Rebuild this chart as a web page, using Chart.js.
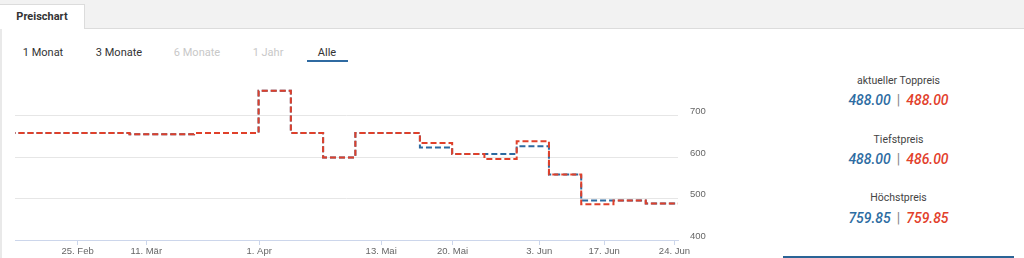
<!DOCTYPE html>
<html>
<head>
<meta charset="utf-8">
<script src="https://cdn.jsdelivr.net/npm/chart.js@4.4.0/dist/chart.umd.min.js"></script>
<style>
  html, body { margin: 0; padding: 0; background: #fff; }
  body { width: 1024px; height: 258px; position: relative; overflow: hidden; font-family: Roboto, "Liberation Sans", sans-serif; color: #333; }
  #tabbar { position: absolute; left: 0; top: 0; width: 1024px; height: 29px; background: #f2f2f2; border-bottom: 1px solid #dcdcdc; box-sizing: border-box; }
  #tab { position: absolute; left: 0; top: 4px; width: 85px; height: 25px; background: #fff; border: 1px solid #dcdcdc; border-bottom: none; border-left: none; box-sizing: border-box; font-size: 11px; font-weight: bold; color: #333; text-align: center; line-height: 23px; }
  #leftbar { position: absolute; left: 0; top: 29px; width: 2px; height: 229px; background: #e9e9e9; }
  .range { position: absolute; top: 46px; font-size: 11px; line-height: 14px; white-space: nowrap; transform: translateX(-50%); }
  .range.off { color: #c8c8c8; }
  #underline { position: absolute; left: 307px; top: 60px; width: 41px; height: 2px; background: #2f6aa1; }
  #wrap { position: absolute; left: 15px; top: 74px; width: 703px; height: 184px; }
  .stat { position: absolute; left: 783px; width: 231px; text-align: center; white-space: nowrap; }
  .lbl { font-size: 10.5px; color: #444; }
  .val { font-size: 14px; font-style: italic; font-weight: 500; }
  .val .b { color: #2d6ca2; }
  .val .r { color: #e2402b; }
  .val .sep { color: #888; font-style: normal; font-weight: 400; margin: 0 6px; }
  #bottombar { position: absolute; left: 783px; top: 256px; width: 231px; height: 2px; background: #2a6496; }
</style>
</head>
<body>
<div id="tabbar"></div>
<div id="tab">Preischart</div>
<div id="leftbar"></div>

<span class="range" style="left:43px">1 Monat</span>
<span class="range" style="left:119px">3 Monate</span>
<span class="range off" style="left:197px">6 Monate</span>
<span class="range off" style="left:268px">1 Jahr</span>
<span class="range" style="left:327px">Alle</span>
<div id="underline"></div>

<div id="wrap"><canvas id="priceChart"></canvas></div>

<div class="stat lbl" style="top:74px">aktueller Toppreis</div>
<div class="stat val" style="top:92px"><span class="b">488.00</span><span class="sep">|</span><span class="r">488.00</span></div>
<div class="stat lbl" style="top:133px">Tiefstpreis</div>
<div class="stat val" style="top:151px"><span class="b">488.00</span><span class="sep">|</span><span class="r">486.00</span></div>
<div class="stat lbl" style="top:191px">Höchstpreis</div>
<div class="stat val" style="top:210px"><span class="b">759.85</span><span class="sep">|</span><span class="r">759.85</span></div>
<div id="bottombar"></div>

<script>
// ordinal positions of the price points (evenly spaced, like the stock chart)
const pointIdx = [-1, 0, 1, 2, 3, 4, 5, 6, 7, 8, 9, 10, 11, 12, 13, 14, 15, 16, 17, 18, 19, 20];
const redPrices = [658, 658, 658, 658, 655, 655, 658, 658, 759.85, 658, 599, 658, 658, 634, 607, 595, 638, 558, 486, 495, 488, 488];
const bluePrices = [658, 658, 658, 658, 655, 655, 658, 658, 759.85, 658, 599, 658, 658, 623, 607, 607, 626, 558, 495, 495, 488, 488];

// date labels and where they sit on the ordinal axis
const tickPos = [1.39, 3.52, 7.02, 10.80, 13.01, 15.70, 17.71, 19.89];
const tickLabels = ["25. Feb", "11. Mär", "1. Apr", "13. Mai", "20. Mai", "3. Jun", "17. Jun", "24. Jun"];
const yTicks = [400, 500, 600, 700];

const toPoints = arr => arr.map((v, i) => ({ x: pointIdx[i], y: v }));

Chart.defaults.font.family = '"Liberation Sans", Arial, sans-serif';
Chart.defaults.font.size = 9.5;
Chart.defaults.color = "#666";

new Chart(document.getElementById("priceChart"), {
  type: "line",
  data: {
    datasets: [
      { label: "rot", data: toPoints(redPrices), borderColor: "#e0402a", borderWidth: 2, borderDash: [6, 3], stepped: "before", pointRadius: 0, fill: false },
      { label: "blau", data: toPoints(bluePrices), borderColor: "#2c6aa0", borderWidth: 2, borderDash: [6, 3], stepped: "before", pointRadius: 0, fill: false }
    ]
  },
  options: {
    responsive: true,
    maintainAspectRatio: false,
    animation: false,
    layout: { padding: 0 },
    plugins: { legend: { display: false }, tooltip: { enabled: false } },
    scales: {
      x: {
        type: "linear",
        min: -0.55,
        max: 20,
        afterBuildTicks: s => { s.ticks = tickPos.map(v => ({ value: v })); },
        afterFit: s => { s.height = 18; s.paddingLeft = 0; s.paddingRight = 0; },
        ticks: { autoSkip: false, maxRotation: 0, padding: 1, callback: (v, i) => tickLabels[i] },
        grid: { drawOnChartArea: false, drawTicks: true, tickLength: 5, color: "#ccd6eb" },
        border: { color: "#ccd6eb" }
      },
      y: {
        position: "right",
        min: 400,
        max: 800,
        afterBuildTicks: s => { s.ticks = yTicks.map(v => ({ value: v })); },
        afterFit: s => { s.width = 40; s.paddingTop = 0; s.paddingBottom = 0; },
        ticks: { padding: 12, labelOffset: -4 },
        grid: { color: "#e6e6e6", drawTicks: false },
        border: { display: false }
      }
    }
  }
});
</script>
</body>
</html>
